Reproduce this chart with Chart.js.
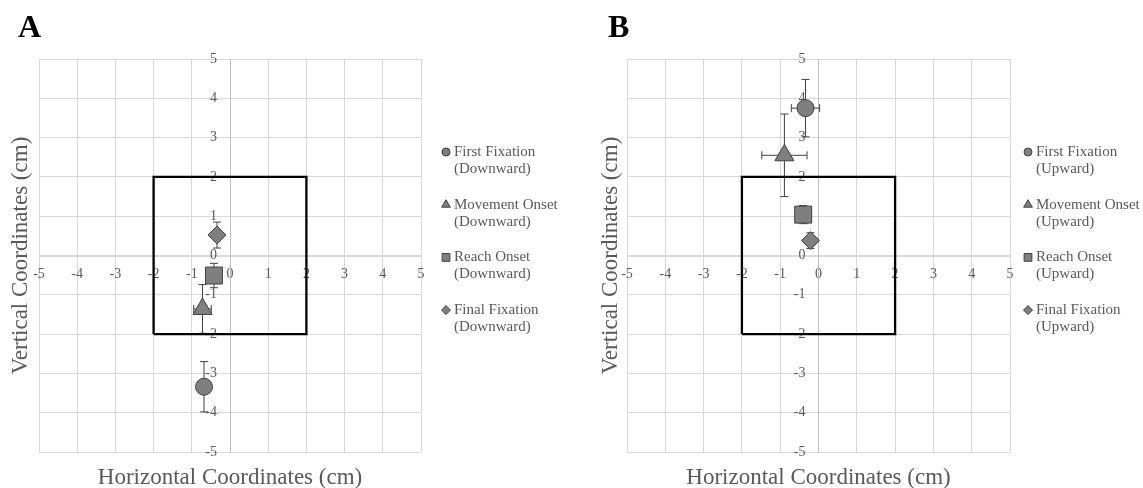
<!DOCTYPE html>
<html>
<head>
<meta charset="utf-8">
<script src="https://cdn.jsdelivr.net/npm/chart.js@4.4.1/dist/chart.umd.min.js"></script>
<style>
  body { margin: 0; background: #fff; }
  .panel { position: absolute; top: 0; height: 488px; }
  #panelA { left: 0; width: 580px; }
  #panelB { left: 587px; width: 556px; }
</style>
</head>
<body>
<div class="panel" id="panelA"><canvas id="chartA" width="580" height="488"></canvas></div>
<div class="panel" id="panelB"><canvas id="chartB" width="556" height="488"></canvas></div>
<script>
// dados (cm)
const axisTicks = [-5, -4, -3, -2, -1, 0, 1, 2, 3, 4, 5];
const seriesNames = ['First Fixation', 'Movement Onset', 'Reach Onset', 'Final Fixation'];
const markerStyles = ['circle', 'triangle', 'rect', 'rectRot'];
const markerSizes = [8.5, 11, 12, 9];
const legendSizes = [4, 5, 5.5, 4.5];

const downX = [-0.68, -0.72, -0.42, -0.34];
const downY = [-3.34, -1.36, -0.51, 0.52];
const downXErr = [0.1, 0.23, 0.1, 0.1];
const downYErr = [0.64, 0.62, 0.31, 0.33];

const upX = [-0.34, -0.89, -0.40, -0.21];
const upY = [3.75, 2.55, 1.04, 0.38];
const upXErr = [0.37, 0.59, 0.1, 0.1];
const upYErr = [0.73, 1.05, 0.23, 0.2];

const targetX = [-2, 2, 2, -2, -2];
const targetY = [-2, -2, 2, 2, -2];

const FONT = "'Liberation Serif', 'Times New Roman', serif";
const TEXT_GRAY = '#595959';

// barras de erro desenhadas por baixo dos marcadores
const errorBarPlugin = {
    id: 'errorBars',
    beforeDatasetsDraw(chart) {
        const ctx = chart.ctx;
        const xs = chart.scales.x, ys = chart.scales.y;
        const cap = 4;
        ctx.save();
        ctx.strokeStyle = '#404040';
        ctx.lineWidth = 1;
        chart.data.datasets.forEach(ds => {
            if (!ds.errX) return;
            ds.data.forEach((p, i) => {
                const px = xs.getPixelForValue(p.x), py = ys.getPixelForValue(p.y);
                const x1 = xs.getPixelForValue(p.x - ds.errX[i]), x2 = xs.getPixelForValue(p.x + ds.errX[i]);
                const y1 = ys.getPixelForValue(p.y - ds.errY[i]), y2 = ys.getPixelForValue(p.y + ds.errY[i]);
                ctx.beginPath();
                ctx.moveTo(x1, py); ctx.lineTo(x2, py);
                ctx.moveTo(x1, py - cap); ctx.lineTo(x1, py + cap);
                ctx.moveTo(x2, py - cap); ctx.lineTo(x2, py + cap);
                ctx.moveTo(px, y1); ctx.lineTo(px, y2);
                ctx.moveTo(px - cap, y1); ctx.lineTo(px + cap, y1);
                ctx.moveTo(px - cap, y2); ctx.lineTo(px + cap, y2);
                ctx.stroke();
            });
        });
        ctx.restore();
    }
};

// letra do painel, títulos dos eixos e legenda
const decorPlugin = {
    id: 'decor',
    afterDraw(chart, args, opts) {
        const ctx = chart.ctx;
        const area = chart.chartArea;
        ctx.save();
        ctx.fillStyle = '#000';
        ctx.font = 'bold 32px ' + FONT;
        ctx.textAlign = 'left';
        ctx.textBaseline = 'alphabetic';
        ctx.fillText(opts.letter, opts.letterX, 37);

        ctx.fillStyle = TEXT_GRAY;
        ctx.font = '23px ' + FONT;
        ctx.textAlign = 'center';
        ctx.textBaseline = 'middle';
        ctx.fillText('Horizontal Coordinates (cm)', (area.left + area.right) / 2, area.bottom + 26);
        ctx.save();
        ctx.translate(opts.letterX + 3, (area.top + area.bottom) / 2);
        ctx.rotate(-Math.PI / 2);
        ctx.fillText('Vertical Coordinates (cm)', 0, 0);
        ctx.restore();

        ctx.font = '15px ' + FONT;
        ctx.textAlign = 'left';
        seriesNames.forEach((name, i) => {
            const y = 152 + i * 52.7;
            ctx.fillStyle = '#7f7f7f';
            ctx.strokeStyle = '#404040';
            ctx.lineWidth = 1;
            Chart.helpers.drawPoint(ctx, {
                pointStyle: markerStyles[i], radius: legendSizes[i], borderWidth: 1, rotation: 0
            }, opts.legendX, y);
            ctx.fillStyle = TEXT_GRAY;
            ctx.fillText(name, opts.legendX + 8, y);
            ctx.fillText('(' + opts.direction + ')', opts.legendX + 8, y + 17);
        });
        ctx.restore();
    }
};

function buildDatasets(xs, ys, xErr, yErr) {
    const sets = [{
        type: 'scatter',
        label: 'target',
        data: targetX.map((x, i) => ({ x: x, y: targetY[i] })),
        showLine: true,
        borderColor: '#000',
        borderWidth: 2.3,
        pointRadius: 0,
        fill: false,
        order: 5
    }];
    seriesNames.forEach((name, i) => {
        sets.push({
            type: 'scatter',
            label: name,
            data: [{ x: xs[i], y: ys[i] }],
            errX: [xErr[i]],
            errY: [yErr[i]],
            pointStyle: markerStyles[i],
            pointRadius: markerSizes[i],
            backgroundColor: '#7f7f7f',
            borderColor: '#404040',
            borderWidth: 1,
            order: 1
        });
    });
    return sets;
}

// eixos cruzando no centro (0,0), como no Excel
function axisOptions(borderColor, pad) {
    return {
        type: 'linear',
        min: -5,
        max: 5,
        position: 'center',
        afterBuildTicks: scale => { scale.ticks = axisTicks.map(v => ({ value: v })); },
        grid: { color: '#d9d9d9', lineWidth: 1, drawTicks: false },
        border: { display: true, color: borderColor, width: 1 },
        ticks: {
            color: TEXT_GRAY,
            padding: pad,
            font: { family: FONT, size: 14 },
            autoSkip: false,
            maxRotation: 0
        }
    };
}

function makePanel(canvasId, xs, ys, xErr, yErr, padding, letter, letterX, legendX, direction) {
    return new Chart(document.getElementById(canvasId), {
        data: { datasets: buildDatasets(xs, ys, xErr, yErr) },
        options: {
            responsive: false,
            animation: false,
            layout: { padding: padding },
            plugins: {
                legend: { display: false },
                tooltip: { enabled: false },
                decor: { letter: letter, letterX: letterX, legendX: legendX, direction: direction }
            },
            scales: {
                x: axisOptions('#d9d9d9', 10),
                y: axisOptions('#bfbfbf', 13)
            }
        },
        plugins: [errorBarPlugin, decorPlugin]
    });
}

makePanel('chartA', downX, downY, downXErr, downYErr,
    { left: 39, top: 59, right: 159, bottom: 36 }, 'A', 18, 446, 'Downward');
makePanel('chartB', upX, upY, upXErr, upYErr,
    { left: 40, top: 59, right: 133, bottom: 36 }, 'B', 21, 441, 'Upward');
</script>
</body>
</html>
